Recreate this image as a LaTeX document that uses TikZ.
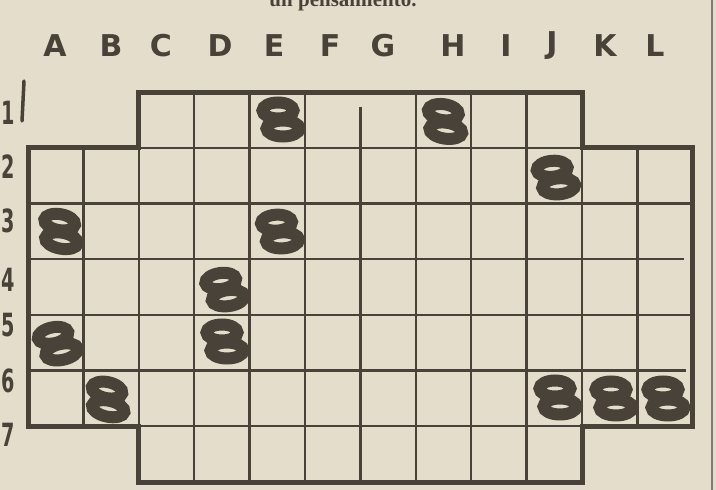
\documentclass[tikz,border=0pt]{standalone}
\usepackage{fontspec}
\newfontfamily\hand{DejaVu Sans}
\newfontfamily\headfont{Liberation Serif}
\definecolor{paper}{RGB}{229,221,204}
\definecolor{ink}{RGB}{72,66,56}
\tikzset{
  gridline/.style={draw=ink, line width=2.4pt},
  outline/.style={draw=ink, line width=5pt, line join=miter},
  colletter/.style={text=ink, font=\hand\bfseries\fontsize{30}{30}\selectfont, anchor=center, inner sep=0pt},
  rowlabel/.style={text=ink, font=\hand\bfseries\fontsize{32}{32}\selectfont, anchor=east, inner sep=0pt, xscale=0.6},
  piecestroke/.style={draw=ink, line width=12pt},
}
\newcommand\drawpiece[3]{%
  \begin{scope}[shift={(#1,#2)}, rotate=#3]
    \draw[piecestroke] (-3,-9.5) ellipse [x radius=15.5, y radius=8];
    \draw[piecestroke] (2,8.5) ellipse [x radius=16.5, y radius=8];
  \end{scope}}
\begin{document}
\begin{tikzpicture}[x=1pt, y=-1pt]
  \fill[paper] (0,0) rectangle (716,490);
  \useasboundingbox (0,0) rectangle (716,490);
  % clipped heading text
  \node[text=ink, font=\headfont\bfseries\fontsize{21}{21}\selectfont, anchor=base, inner sep=0pt] (head) at (343,6) {un pensamiento.};
  % page edge
  \draw[ink!70, line width=1.2pt] (712,0) -- (712,490);
  % column letters
  \foreach \l/\x in {A/55,B/111,C/161,D/220,E/274,F/330,G/383,H/453,I/506,J/552,K/605,L/655}
    \node[colletter] (col\l) at (\x,46) {\l};
  % row numbers
  \foreach \n/\y in {1/113,2/167,3/221,4/280,5/325,6/381,7/435}
    \node[rowlabel] (row\n) at (15,\y) {\n};
  \draw[ink, line width=3.5pt, line cap=round] (24,81) -- (22,121);
  % inner grid lines
  \foreach \x in {194.2,249.6,305,415.8,471.2,526.6}
    \draw[gridline] (\x,92) -- (\x,482);
  \draw[gridline] (360.4,107) -- (360.4,482);
  \foreach \x in {83.4,138.8,582,637.4}
    \draw[gridline] (\x,147.7) -- (\x,426.2);
  \draw[gridline] (138.8,147.7) -- (582,147.7);
  \draw[gridline] (138.8,426.2) -- (582,426.2);
  \foreach \y in {203.4,314.8}
    \draw[gridline] (28,\y) -- (692.8,\y);
  \draw[gridline] (28,259.1) -- (684,259.1);
  \draw[gridline] (28,370.5) -- (686,370.5);
  % outline
  \draw[outline] (138.8,92) -- (582,92) -- (582,147.7) -- (692.8,147.7) -- (692.8,426.2)
    -- (582,426.2) -- (582,482) -- (138.8,482) -- (138.8,426.2) -- (28,426.2)
    -- (28,147.7) -- (138.8,147.7) -- cycle;
  % pieces
  \drawpiece{281}{120}{0}
  \drawpiece{445}{122}{-8}
  \drawpiece{556}{178}{5}
  \drawpiece{61}{232}{-10}
  \drawpiece{280}{232}{3}
  \drawpiece{225}{290}{8}
  \drawpiece{225}{342}{0}
  \drawpiece{58}{344}{12}
  \drawpiece{108}{400}{-12}
  \drawpiece{558}{398}{0}
  \drawpiece{614}{399}{0}
  \drawpiece{666}{399}{0}
\end{tikzpicture}
\end{document}
